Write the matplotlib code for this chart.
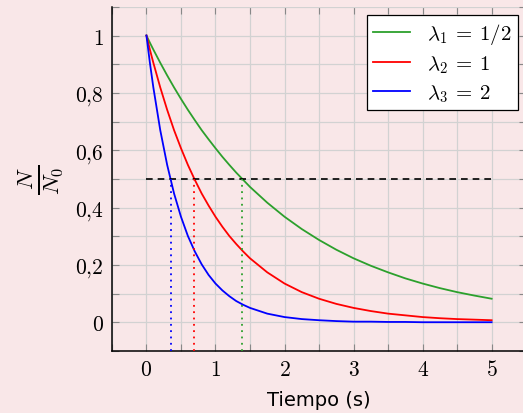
import numpy as np
import matplotlib
matplotlib.use("Agg")
import matplotlib.pyplot as plt
from matplotlib.ticker import MultipleLocator, FixedLocator

plt.rcParams["mathtext.fontset"] = "cm"

# Datos (N/N0 frente al tiempo)
tiempo = [0, 0.05, 0.1, 0.2, 0.3, 0.4, 0.5, 0.6, 0.7, 0.8, 0.9, 1.0, 1.1, 1.2, 1.3, 1.4, 1.5,
          1.75, 2, 2.25, 2.5, 2.75, 3, 3.25, 3.5, 3.75, 4, 4.25, 4.5, 4.75, 5]
n_lambda1 = [1, 0.975, 0.951, 0.905, 0.861, 0.819, 0.779, 0.741, 0.705, 0.670, 0.638,
             0.607, 0.577, 0.549, 0.522, 0.497, 0.472,
             0.417, 0.368, 0.325, 0.287, 0.253, 0.223, 0.197, 0.174, 0.153, 0.135,
             0.119, 0.105, 0.093, 0.082]
n_lambda2 = [1, 0.951, 0.905, 0.819, 0.741, 0.670, 0.607, 0.549, 0.497, 0.449, 0.407,
             0.368, 0.333, 0.301, 0.273, 0.247, 0.223,
             0.174, 0.135, 0.105, 0.082, 0.064, 0.050, 0.039, 0.030, 0.024, 0.018,
             0.014, 0.011, 0.009, 0.007]
n_lambda3 = [1, 0.905, 0.819, 0.670, 0.549, 0.449, 0.368, 0.301, 0.247, 0.202, 0.165,
             0.135, 0.111, 0.091, 0.074, 0.061, 0.050,
             0.030, 0.018, 0.011, 0.007, 0.004, 0.002, 0.002, 0.001, 0.001, 0.0,
             0.0, 0.0, 0.0, 0.0]
etiquetas = [r"$\lambda_1\:=\:1/2$", r"$\lambda_2\:=\:1$", r"$\lambda_3\:=\:2$"]
colores = ["#2ca02c", "red", "blue"]
semivida = [1.39, 0.69, 0.35]
nivel_mitad = 0.5

fondo = "#f9e7e8"
fig = plt.figure(figsize=(5.23, 4.14), dpi=100, facecolor=fondo)
ax = fig.add_axes([0.214, 0.150, 0.792, 0.831], facecolor=fondo)

series = [n_lambda1, n_lambda2, n_lambda3]
for y, lab, c in zip(series, etiquetas, colores):
    ax.plot(tiempo, y, color=c, lw=1.3, label=lab, zorder=3)

ax.hlines(nivel_mitad, 0, 5, colors="black", linestyles=(0, (4, 3)), lw=1.2, zorder=3)
for th, c in zip(semivida, colores):
    ax.vlines(th, -0.1, nivel_mitad, colors=c, linestyles=(0, (1, 2.5)), lw=1.3, zorder=3)

ax.set_xlim(-0.5, 5.5)
ax.set_ylim(-0.1, 1.1)

ax.xaxis.set_major_locator(FixedLocator([0, 1, 2, 3, 4, 5]))
ax.xaxis.set_minor_locator(MultipleLocator(0.5))
ax.yaxis.set_major_locator(FixedLocator([0, 0.2, 0.4, 0.6, 0.8, 1]))
ax.yaxis.set_minor_locator(MultipleLocator(0.1))
ax.set_xticklabels([f"${v}$" for v in [0, 1, 2, 3, 4, 5]])
ax.set_yticklabels(["$0$", "$0{,}2$", "$0{,}4$", "$0{,}6$", "$0{,}8$", "$1$"])

ax.grid(which="both", color="#d2d2d2", lw=0.9, zorder=0)
ax.tick_params(which="both", direction="in", length=5, width=0.8, color="#888888",
               top=True, right=True, labelsize=15.5, pad=6)

for s in ["top", "right"]:
    ax.spines[s].set_visible(False)
for s in ["left", "bottom"]:
    ax.spines[s].set_linewidth(1.1)

ax.set_xlabel("Tiempo (s)", fontsize=14, labelpad=8)
ax.set_ylabel(r"$\frac{N}{N_0}$", fontsize=24, labelpad=6)

leg = ax.legend(loc="upper right", fontsize=15, frameon=True, fancybox=False,
                edgecolor="black", framealpha=1, handlelength=1.8,
                borderaxespad=0.4, borderpad=0.3, labelspacing=0.35)
leg.get_frame().set_linewidth(0.9)

fig.savefig("out.png", dpi=100, facecolor=fondo)
